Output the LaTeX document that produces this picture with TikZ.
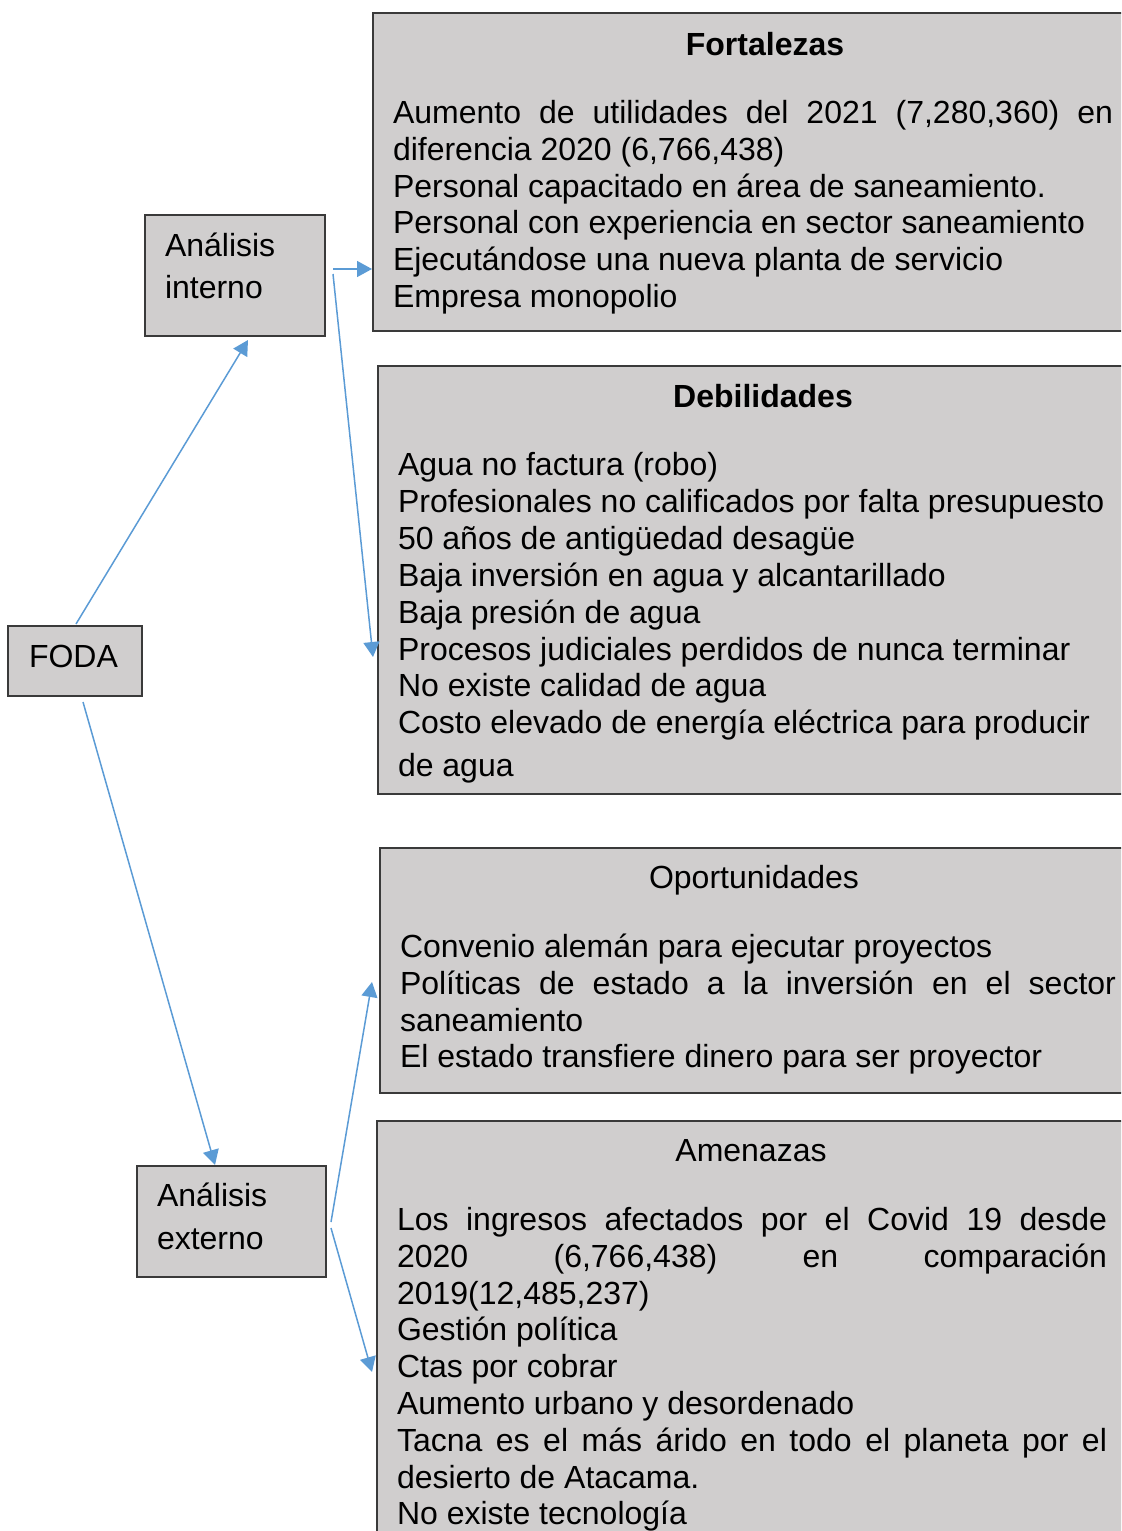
\documentclass[tikz,border=0pt]{standalone}
\usepackage{fontspec}
\setmainfont{Liberation Sans}
\usetikzlibrary{arrows.meta,calc}
\definecolor{boxfill}{HTML}{D0CECE}
\definecolor{boxline}{HTML}{3A3A3A}
\definecolor{conncol}{HTML}{5B9BD5}
\tikzset{
  box/.style={draw=boxline, line width=1pt, fill=boxfill, anchor=north west, inner sep=0pt, outer sep=0pt},
  txt/.style={anchor=base west, inner sep=0pt, outer sep=0pt, font=\fontsize{16pt}{18.4pt}\selectfont},
  ttl/.style={anchor=base, inner sep=0pt, outer sep=0pt, font=\fontsize{16pt}{18.4pt}\selectfont},
  conn/.style={draw=conncol, line width=0.75pt, -{Triangle[length=7.5pt,width=8pt]}}
}
\begin{document}
\begin{tikzpicture}[x=0.5pt,y=-0.5pt]
\useasboundingbox (0,0) rectangle (1121,1531);
\clip (0,0) rectangle (1121,1531);
% left boxes
\node[box, minimum width=90pt, minimum height=60.5pt] (intern) at (145,215) {};
\node[box, minimum width=67pt, minimum height=35pt] (foda) at (8,626) {};
\node[box, minimum width=94.5pt, minimum height=55.5pt] (extern) at (137,1166) {};
% right boxes
\node[box, minimum width=392pt, minimum height=159pt] (fort) at (373,13) {};
\node[box, minimum width=385pt, minimum height=214pt] (deb) at (378,366) {};
\node[box, minimum width=380pt, minimum height=122.5pt] (oport) at (380,848) {};
\node[box, minimum width=380pt, minimum height=230pt] (amen) at (377,1121) {};
% left texts
\node[txt] (t1) at (165,256) {Análisis};
\node[txt] (t2) at (165,298) {interno};
\node[txt] (t3) at (29,667) {FODA};
\node[txt] (t4) at (157,1206) {Análisis};
\node[txt] (t5) at (157,1249) {externo};
% titles
\node[ttl] (fortT) at (765,55) {\bfseries Fortalezas};
\node[ttl] (debT) at (763,407) {\bfseries Debilidades};
\node[ttl] (oportT) at (754,888) {Oportunidades};
\node[ttl] (amenT) at (751,1161) {Amenazas};
% Fortalezas body
\foreach \y/\t [count=\i] in {
  123/{\makebox[360pt][s]{Aumento de utilidades del 2021 (7,280,360) en}},
  160/{diferencia 2020 (6,766,438)},
  197/{Personal capacitado en área de saneamiento.},
  233/{Personal con experiencia en sector saneamiento},
  270/{Ejecutándose una nueva planta de servicio},
  307/{Empresa monopolio}}
  \node[txt] (f\i) at (393,\y) {\t};
% Debilidades body
\foreach \y/\t [count=\i] in {
  475/{Agua no factura (robo)},
  512/{Profesionales no calificados por falta presupuesto},
  549/{50 años de antigüedad desagüe},
  586/{Baja inversión en agua y alcantarillado},
  623/{Baja presión de agua},
  660/{Procesos judiciales perdidos de nunca terminar},
  696/{No existe calidad de agua},
  733/{Costo elevado de energía eléctrica para producir},
  776/{de agua}}
  \node[txt] (d\i) at (398,\y) {\t};
% Oportunidades body
\foreach \y/\t [count=\i] in {
  957/{Convenio alemán para ejecutar proyectos},
  994/{\makebox[358pt][s]{Políticas de estado a la inversión en el sector}},
  1031/{saneamiento},
  1067/{El estado transfiere dinero para ser proyector}}
  \node[txt] (o\i) at (400,\y) {\t};
% Amenazas body
\foreach \y/\t [count=\i] in {
  1230/{\makebox[355pt][s]{Los ingresos afectados por el Covid 19 desde}},
  1267/{\makebox[355pt][s]{2020 (6,766,438) en comparación}},
  1304/{2019(12,485,237)},
  1340/{Gestión política},
  1377/{Ctas por cobrar},
  1414/{Aumento urbano y desordenado},
  1451/{\makebox[355pt][s]{Tacna es el más árido en todo el planeta por el}},
  1488/{desierto de Atacama.},
  1524/{No existe tecnología}}
  \node[txt] (a\i) at (397,\y) {\t};
% connectors
\draw[conn] ($(foda.north west)+(68,-2)$) -- ($(intern.south west)+(103,4)$);
\draw[conn] ($(intern.north east)+(8,54)$) -- ($(fort.north west)+(-1,256)$);
\draw[conn] ($(intern.north east)+(8,59)$) -- ($(deb.north west)+(-5,291)$);
\draw[conn] ($(foda.south west)+(75,6)$) -- ($(extern.north west)+(78,-1)$);
\draw[conn] ($(extern.north east)+(5,56)$) -- ($(oport.north west)+(-8,134)$);
\draw[conn] ($(extern.north east)+(5,62)$) -- ($(amen.north west)+(-5,251)$);
\end{tikzpicture}
\end{document}
